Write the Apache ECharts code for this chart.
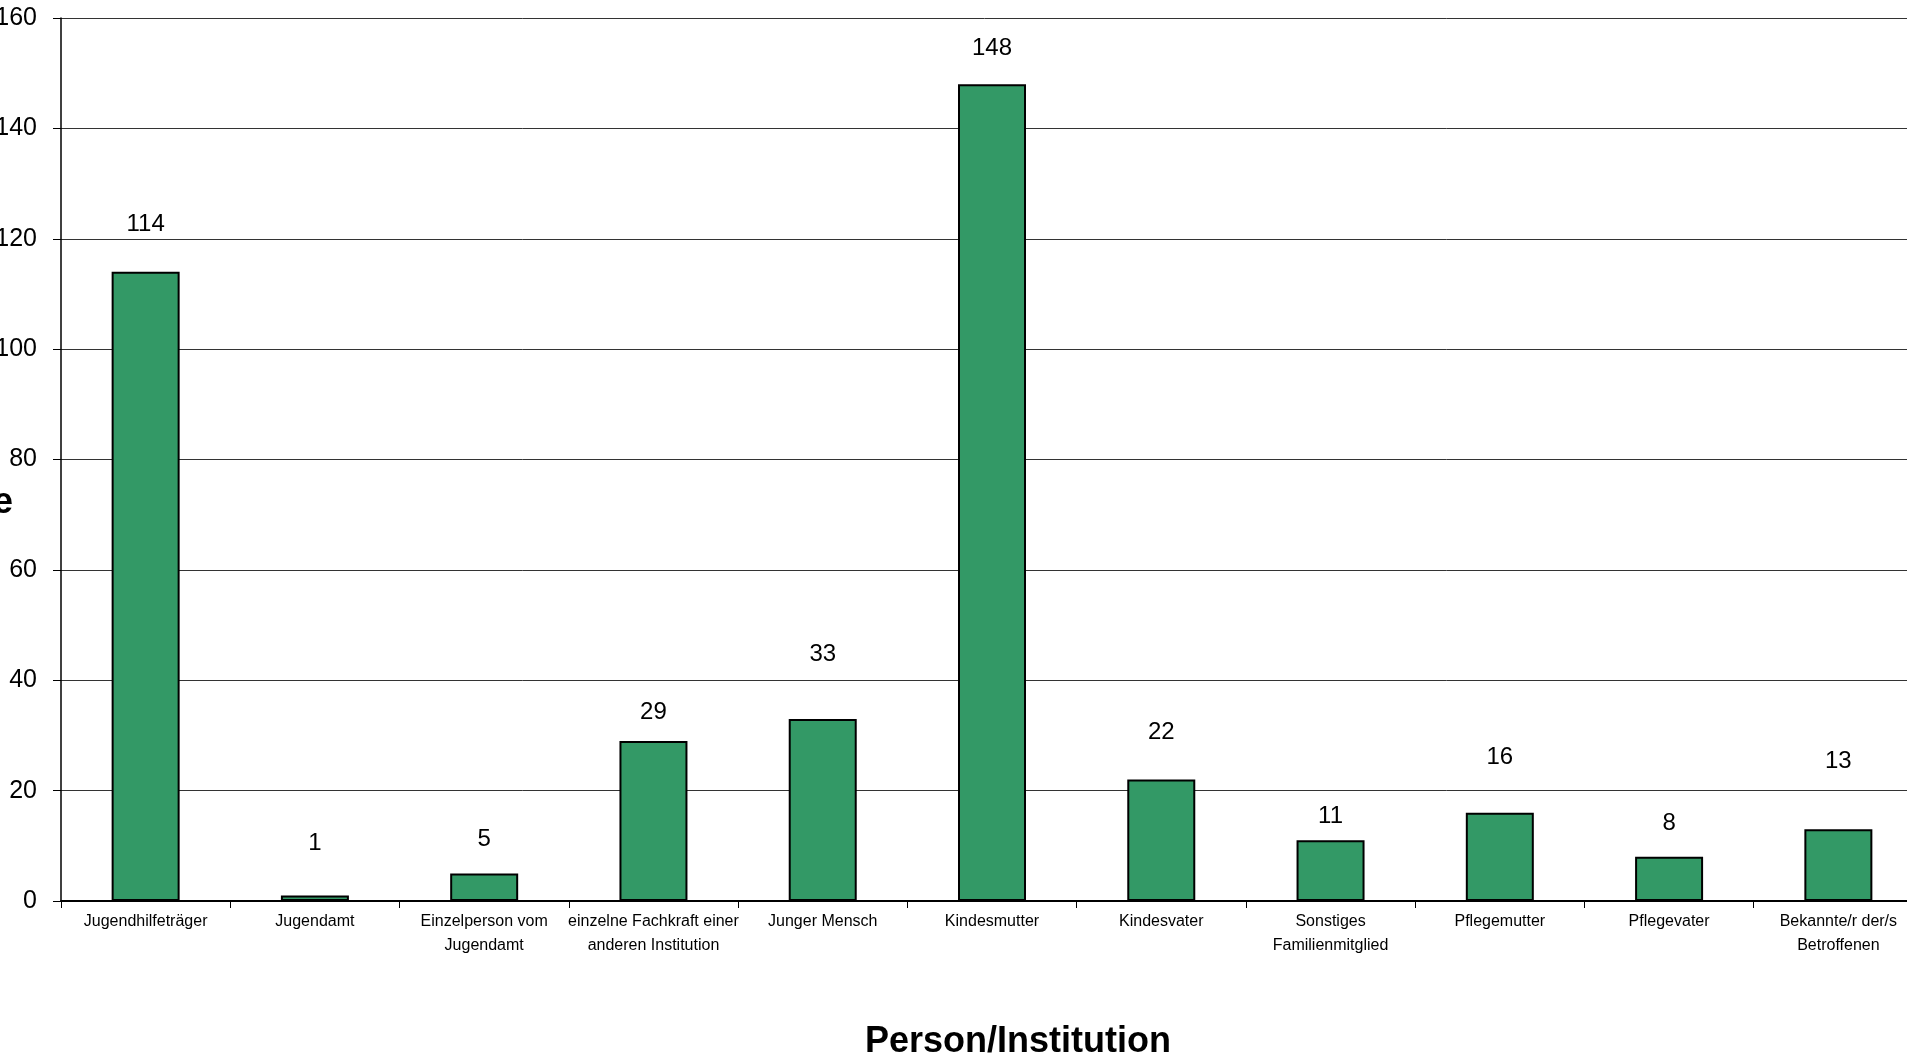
<!DOCTYPE html>
<html>
<head>
<meta charset="utf-8">
<script src="https://cdn.jsdelivr.net/npm/echarts@6/dist/echarts.min.js"></script>
<style>
html,body{margin:0;padding:0;background:#fff;}
#chart{width:1907px;height:1062px;}
</style>
</head>
<body>
<div id="chart"></div>
<script>
const categories = [
  'Jugendhilfeträger',
  'Jugendamt',
  'Einzelperson vom\nJugendamt',
  'einzelne Fachkraft einer\nanderen Institution',
  'Junger Mensch',
  'Kindesmutter',
  'Kindesvater',
  'Sonstiges\nFamilienmitglied',
  'Pflegemutter',
  'Pflegevater',
  'Bekannte/r der/s\nBetroffenen'
];
const values = [114, 1, 5, 29, 33, 148, 22, 11, 16, 8, 13];
const yTicks = [0, 20, 40, 60, 80, 100, 120, 140, 160];
const xAxisTitle = 'Person/Institution';
const yAxisTitle = 'Fälle';
// pixel gap between bar top and label centre (labels were placed by hand in the original)
const labelGap = [47, 52, 34, 29, 65, 36, 47, 24, 55, 33, 68];

const chart = echarts.init(document.getElementById('chart'));
const LABEL_HALF = 12;
chart.setOption({
  animation: false,
  grid: { left: 61, top: 18, right: -16, bottom: 161, containLabel: false, outerBoundsMode: 'none' },
  xAxis: {
    type: 'category',
    data: categories,
    boundaryGap: true,
    axisLine: { show: true, lineStyle: { color: '#000', width: 2 } },
    axisTick: { show: true, alignWithLabel: false, length: 7, lineStyle: { color: '#000', width: 1 } },
    axisLabel: {
      interval: 0, margin: 9, color: '#000',
      fontFamily: '"Liberation Sans Narrow", "Arial Narrow", "Liberation Sans", Arial, sans-serif',
      fontSize: 16, lineHeight: 24
    },
    splitLine: { show: false }
  },
  yAxis: {
    type: 'value',
    min: yTicks[0], max: yTicks[yTicks.length - 1], interval: yTicks[1] - yTicks[0],
    axisLine: { show: true, lineStyle: { color: '#000', width: 1.5 } },
    axisTick: { show: true, length: 8, lineStyle: { color: '#000', width: 1 } },
    axisLabel: {
      margin: 24, color: '#000',
      fontFamily: '"Liberation Sans", Arial, sans-serif', fontSize: 25
    },
    splitLine: { show: true, lineStyle: { color: '#333', width: 1 } }
  },
  series: [{
    type: 'bar',
    barWidth: 68,
    data: values.map((v, i) => ({
      value: v,
      label: { distance: Math.max(0, labelGap[i] - LABEL_HALF) }
    })),
    itemStyle: { color: '#339966', borderColor: '#000', borderWidth: 2 },
    label: {
      show: true, position: 'top', color: '#000',
      fontFamily: '"Liberation Sans", Arial, sans-serif', fontSize: 24, lineHeight: 24
    }
  }],
  graphic: [
    {
      type: 'text', x: 1018, y: 1042,
      style: {
        text: xAxisTitle, fill: '#000',
        font: 'bold 36px "Liberation Sans", Arial, sans-serif',
        textAlign: 'center', textVerticalAlign: 'middle'
      }
    },
    {
      type: 'text', x: 13, y: 503,
      style: {
        text: yAxisTitle, fill: '#000',
        font: 'bold 36px "Liberation Sans", Arial, sans-serif',
        textAlign: 'right', textVerticalAlign: 'middle'
      }
    }
  ]
});
</script>
</body>
</html>
